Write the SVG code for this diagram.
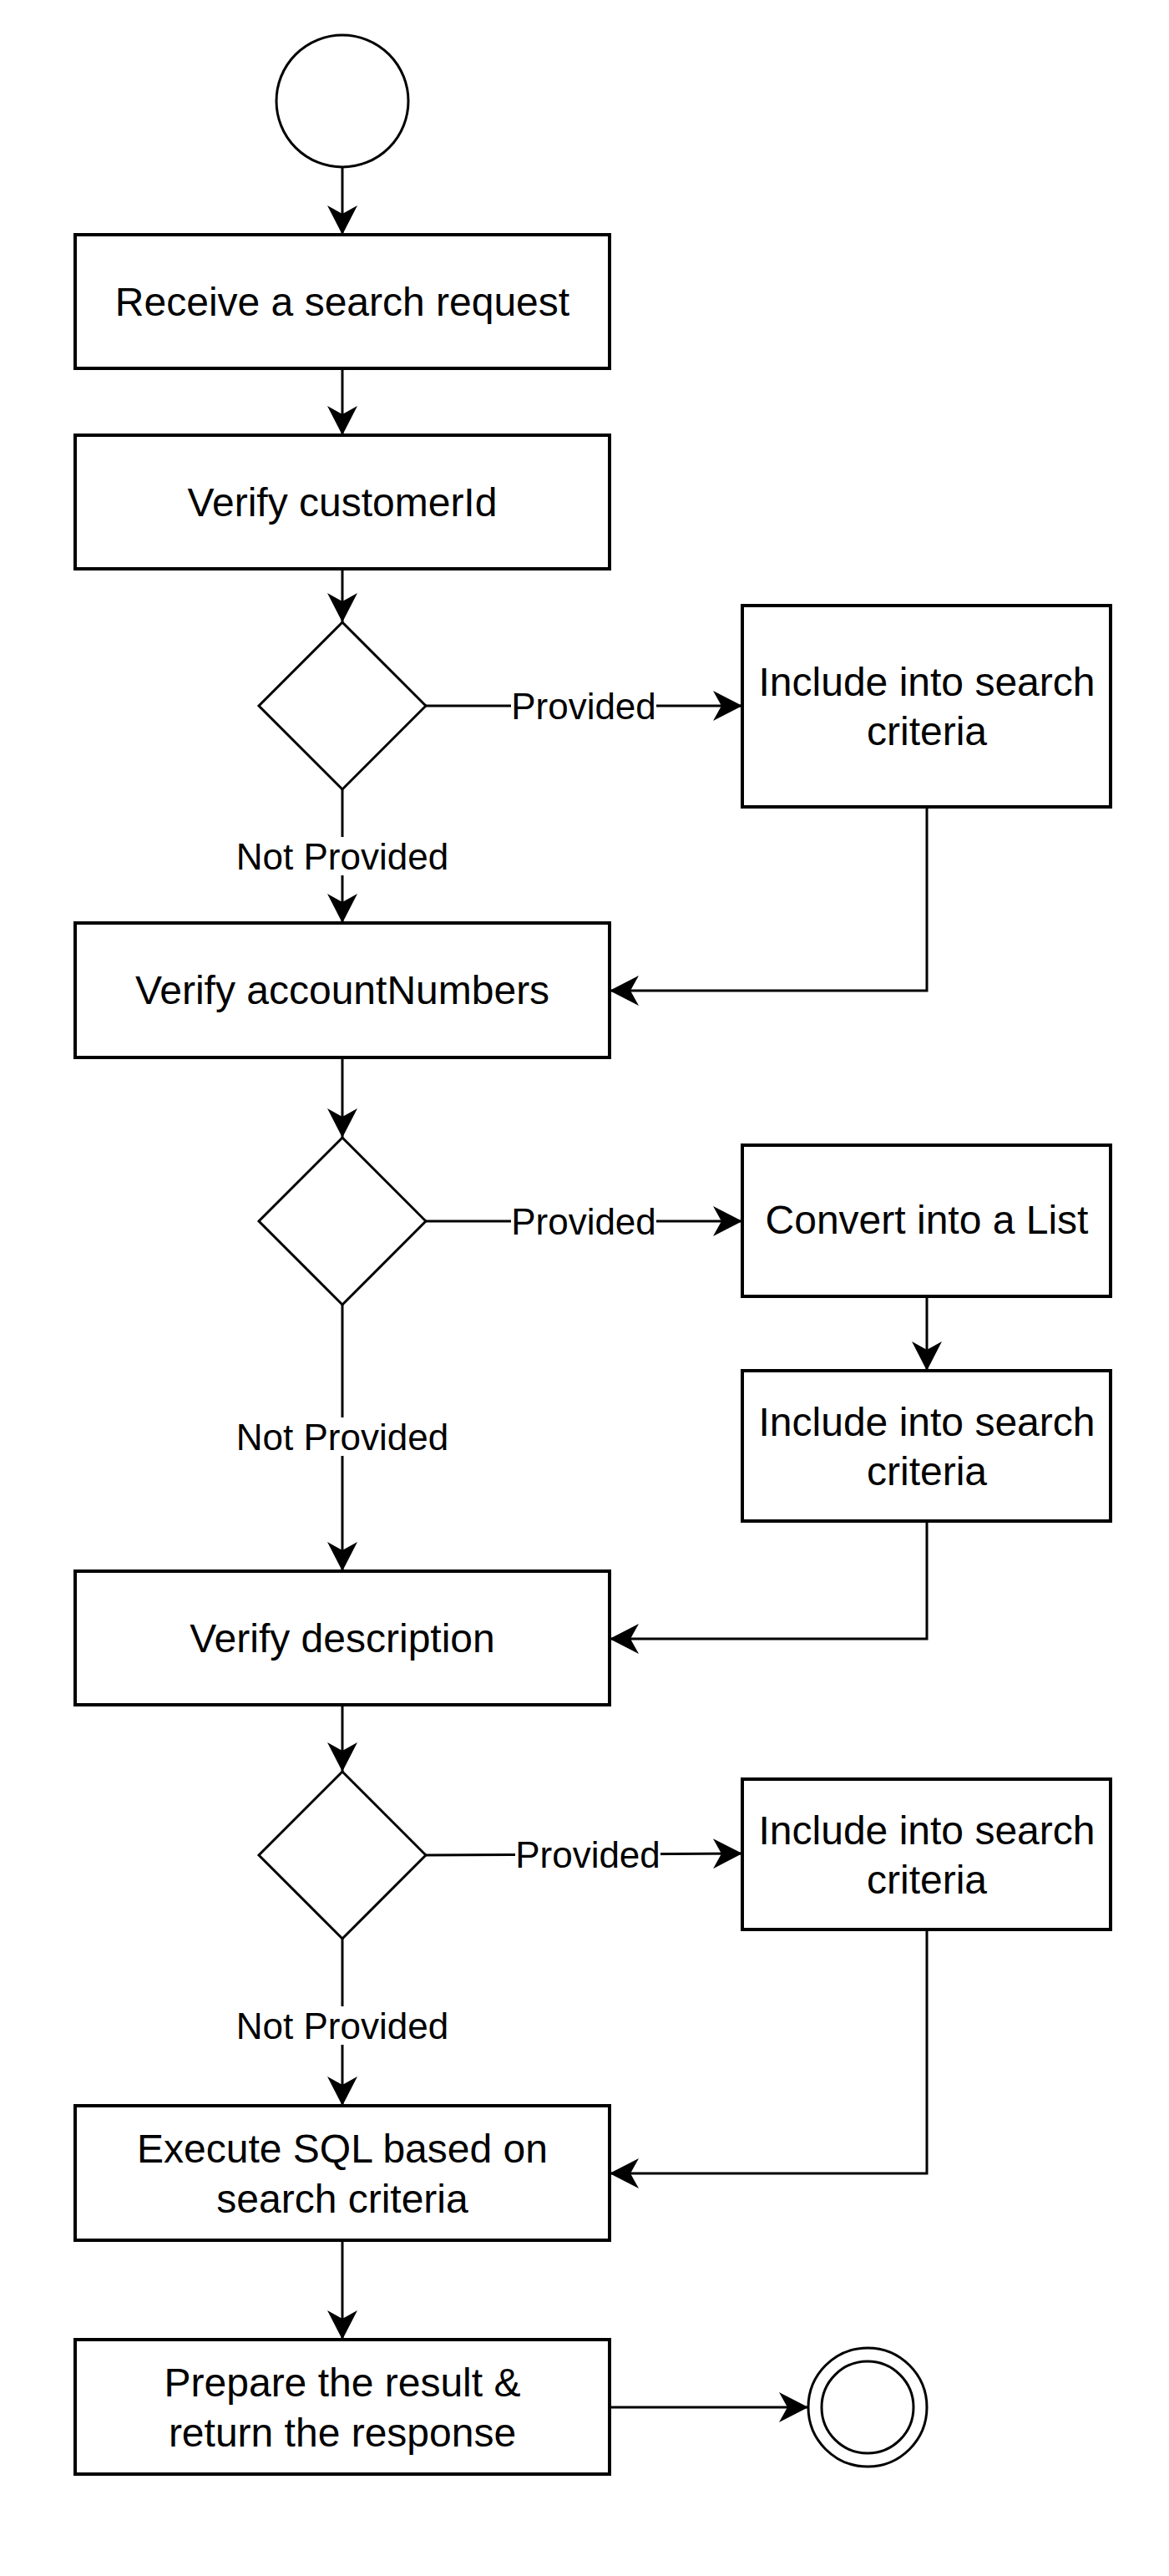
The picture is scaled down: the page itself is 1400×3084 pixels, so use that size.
<svg xmlns="http://www.w3.org/2000/svg" width="1400" height="3084" viewBox="0 0 1400 3084">
<style>
.box{fill:#fff;stroke:#000;stroke-width:4}
.dia{fill:#fff;stroke:#000;stroke-width:3}
.circ{fill:#fff;stroke:#000;stroke-width:3}
.edge{fill:none;stroke:#000;stroke-width:3;marker-end:url(#arr)}
.t{font-family:"Liberation Sans",Arial,Helvetica,sans-serif;font-size:48px;fill:#000;text-anchor:middle;dominant-baseline:central}
.lbl{font-family:"Liberation Sans",Arial,Helvetica,sans-serif;font-size:44px;fill:#000;text-anchor:middle;dominant-baseline:central}
.lblbg{fill:#fff;stroke:none}
</style>
<defs>
<marker id="arr" markerUnits="userSpaceOnUse" markerWidth="36" markerHeight="36" viewBox="0 0 36 36" refX="35" refY="18" orient="auto">
<path d="M0,0 L35,18 L0,36 L10,18 Z" fill="#000"/>
</marker>
</defs>
<rect width="1400" height="3084" fill="#fff"/>
<g id="connectors">
<path class="edge" d="M410,200 L410,281"/>
<path class="edge" d="M410,441 L410,521"/>
<path class="edge" d="M410,681 L410,745"/>
<path class="edge" d="M510,845 L889,845"/>
<path class="edge" d="M410,945 L410,1105"/>
<path class="edge" d="M1110,966 L1110,1186 L730,1186"/>
<path class="edge" d="M410,1266 L410,1362"/>
<path class="edge" d="M510,1462 L889,1462"/>
<path class="edge" d="M1110,1552 L1110,1641"/>
<path class="edge" d="M410,1562 L410,1881"/>
<path class="edge" d="M1110,1821 L1110,1962 L730,1962"/>
<path class="edge" d="M410,2041 L410,2121"/>
<path class="edge" d="M510,2221 L889,2219"/>
<path class="edge" d="M410,2321 L410,2521"/>
<path class="edge" d="M1110,2310 L1110,2602 L730,2602"/>
<path class="edge" d="M410,2682 L410,2801"/>
<path class="edge" d="M730,2882 L968,2882"/>
<g id="labels">
<rect class="lblbg" x="612" y="822" width="174" height="46"/>
<text class="lbl" x="699" y="845">Provided</text>
<rect class="lblbg" x="283" y="1002" width="254" height="46"/>
<text class="lbl" x="410" y="1025">Not Provided</text>
<rect class="lblbg" x="612" y="1439" width="174" height="46"/>
<text class="lbl" x="699" y="1462">Provided</text>
<rect class="lblbg" x="283" y="1697" width="254" height="46"/>
<text class="lbl" x="410" y="1720">Not Provided</text>
<rect class="lblbg" x="617" y="2197" width="174" height="46"/>
<text class="lbl" x="704" y="2220">Provided</text>
<rect class="lblbg" x="283" y="2402" width="254" height="46"/>
<text class="lbl" x="410" y="2425">Not Provided</text>
</g>
</g>
<g id="start"><circle class="circ" cx="410" cy="121" r="79"/></g>
<g id="receive"><rect class="box" x="90" y="281" width="640" height="160"/><text class="t" x="410" y="361">Receive a search request</text></g>
<g id="verifyCustomer"><rect class="box" x="90" y="521" width="640" height="160"/><text class="t" x="410" y="601">Verify customerId</text></g>
<g id="decision1"><polygon class="dia" points="410,745 510,845 410,945 310,845"/></g>
<g id="include1"><rect class="box" x="889" y="725" width="441" height="241"/><text class="t" x="1110" y="816">Include into search</text><text class="t" x="1110" y="875">criteria</text></g>
<g id="verifyAccount"><rect class="box" x="90" y="1105" width="640" height="161"/><text class="t" x="410" y="1185">Verify accountNumbers</text></g>
<g id="decision2"><polygon class="dia" points="410,1362 510,1462 410,1562 310,1462"/></g>
<g id="convert"><rect class="box" x="889" y="1371" width="441" height="181"/><text class="t" x="1110" y="1460">Convert into a List</text></g>
<g id="include2"><rect class="box" x="889" y="1641" width="441" height="180"/><text class="t" x="1110" y="1702">Include into search</text><text class="t" x="1110" y="1761">criteria</text></g>
<g id="verifyDescription"><rect class="box" x="90" y="1881" width="640" height="160"/><text class="t" x="410" y="1961">Verify description</text></g>
<g id="decision3"><polygon class="dia" points="410,2121 510,2221 410,2321 310,2221"/></g>
<g id="include3"><rect class="box" x="889" y="2130" width="441" height="180"/><text class="t" x="1110" y="2191">Include into search</text><text class="t" x="1110" y="2250">criteria</text></g>
<g id="execute"><rect class="box" x="90" y="2521" width="640" height="161"/><text class="t" x="410" y="2572">Execute SQL based on</text><text class="t" x="410" y="2632">search criteria</text></g>
<g id="prepare"><rect class="box" x="90" y="2801" width="640" height="161"/><text class="t" x="410" y="2852">Prepare the result &amp;</text><text class="t" x="410" y="2912">return the response</text></g>
<g id="end"><circle class="circ" cx="1039" cy="2882" r="71"/><circle class="circ" cx="1039" cy="2882" r="55"/></g>
</svg>
